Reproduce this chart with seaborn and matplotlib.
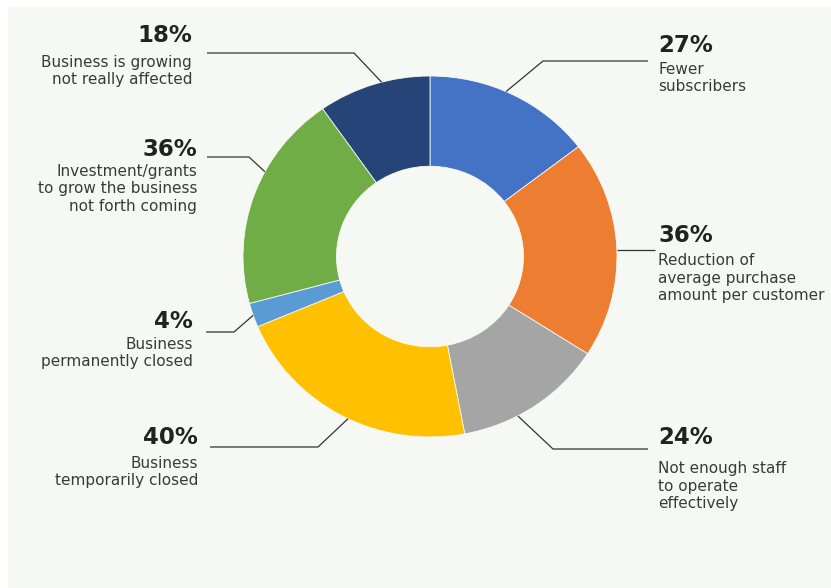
import numpy as np
import matplotlib
matplotlib.use("Agg")
import matplotlib.pyplot as plt
import seaborn as sns

# ---- data ----
categories = [
    "Fewer\nsubscribers",
    "Reduction of\naverage purchase\namount per customer",
    "Not enough staff\nto operate\neffectively",
    "Business\ntemporarily closed",
    "Business\npermanently closed",
    "Investment/grants\nto grow the business\nnot forth coming",
    "Business is growing\nnot really affected",
]
values = [27, 36, 24, 40, 4, 36, 18]
pct_labels = ["27%", "36%", "24%", "40%", "4%", "36%", "18%"]
colors = ["#4472C4", "#ED7D31", "#A5A5A5", "#FFC000", "#5B9BD5", "#70AD47", "#264478"]

# ---- layout (pixels, y from top) ----
W, H = 831, 588
# anchor angle on ring (deg clockwise from top), elbow point, end point
anchor_deg = [24, 88, 152, 206, 251, 298, 345]
elbows = [(543, 61), None, (553, 449), (318, 447), (234, 332), (249, 157), (354, 53)]
ends = [(648, 61), (655, None), (648, 449), (210, 447), (206, 332), (207, 157), (207, 53)]
# text: side, x, pct y, desc center y
text_pos = [
    ("left", 658, 45, 78),
    ("left", 658, 236, 278),
    ("left", 658, 438, 486),
    ("right", 198, 438, 472),
    ("right", 193, 322, 353),
    ("right", 197, 150, 189),
    ("right", 192, 36, 71),
]

sns.set_theme(style="white")
plt.rcParams["font.family"] = ["DejaVu Sans"]

fig = plt.figure(figsize=(W / 100, H / 100), dpi=100, facecolor="white")

# background panel
bg = fig.add_axes([8 / W, 0, 1 - 8 / W, 1 - 7 / H])
bg.set_facecolor("#F6F9F3")
bg.set_xticks([]); bg.set_yticks([])
for s in bg.spines.values():
    s.set_visible(False)

# donut
cx0, cx1, cy0, cy1 = 243, 617, 76, 437
pax = fig.add_axes([cx0 / W, 1 - cy1 / H, (cx1 - cx0) / W, (cy1 - cy0) / H])
pax.pie(values, colors=colors, startangle=90, counterclock=False,
        wedgeprops=dict(width=0.5, edgecolor="#F6F9F3", linewidth=0.6))
pax.set_aspect("auto")
pax.set_xlim(-1, 1); pax.set_ylim(-1, 1)
pax.axis("off")

# overlay in pixel coords
lay = fig.add_axes([0, 0, 1, 1], facecolor="none")
lay.set_xlim(0, W); lay.set_ylim(H, 0)
lay.axis("off")

def to_lay(x, y):
    d = pax.transData.transform((x, y))
    return lay.transData.inverted().transform(d)

for i in range(len(values)):
    th = np.deg2rad(anchor_deg[i])
    ax_, ay_ = to_lay(np.sin(th), np.cos(th))
    ex, ey = ends[i]
    if ey is None:
        ey = ay_
    if elbows[i] is None:
        xs, ys = [ax_, ex], [ay_, ey]
    else:
        xs, ys = [ax_, elbows[i][0], ex], [ay_, elbows[i][1], ey]
    lay.plot(xs, ys, color="#333333", lw=0.9, solid_capstyle="butt")

    side, tx, py, dy = text_pos[i]
    lay.text(tx, py, pct_labels[i], ha=side, va="center", fontsize=16.5,
             fontweight="bold", color="#222222")
    lay.text(tx, dy, categories[i], ha=side, va="center", fontsize=11,
             color="#3a3a3a", linespacing=1.2, multialignment=side)

fig.savefig("out.png", dpi=100, facecolor="white")
